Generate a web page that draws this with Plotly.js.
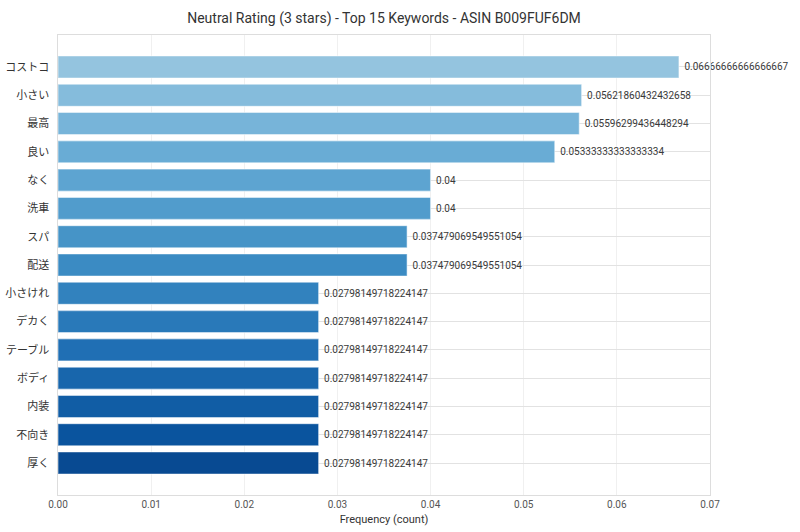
<!DOCTYPE html>
<html>
<head>
<meta charset="utf-8">
<script src="https://cdn.plot.ly/plotly-3.0.1.min.js"></script>
<style>
    html, body { margin: 0; padding: 0; background: #fff; }
    #chart { width: 800px; height: 532px; }
</style>
</head>
<body>
<div id="chart"></div>
<script>
// Top 15 keywords for neutral (3 star) reviews, listed top to bottom
const keywords = [
    'コストコ', '小さい', '最高', '良い', 'なく', '洗車', 'スパ', '配送',
    '小さけれ', 'デカく', 'テーブル', 'ボディ', '内装', '不向き', '厚く'
];

const frequencies = [
    0.06666666666666667, 0.05621860432432658, 0.05596299436448294, 0.05333333333333334,
    0.04, 0.04, 0.037479069549551054, 0.037479069549551054,
    0.02798149718224147, 0.02798149718224147, 0.02798149718224147, 0.02798149718224147,
    0.02798149718224147, 0.02798149718224147, 0.02798149718224147
];

// matplotlib-style Blues, sampled 0.4 -> 0.9 down the list
const bluesScale = [
    [0.0, '#f7fbff'], [0.125, '#deebf7'], [0.25, '#c6dbef'], [0.375, '#9ecae1'],
    [0.5, '#6baed6'], [0.625, '#4292c6'], [0.75, '#2171b5'], [0.875, '#08519c'], [1.0, '#08306b']
];
const shade = keywords.map((k, i) => 0.4 + 0.5 * i / (keywords.length - 1));

const trace = {
    type: 'bar',
    orientation: 'h',
    x: frequencies,
    y: keywords,
    // raw values printed in full, a little off the bar end
    text: frequencies.map(v => '\u00a0' + String(v)),
    textposition: 'outside',
    cliponaxis: false,
    textfont: { size: 10, color: '#3a3a3a' },
    width: 0.78,
    marker: {
        color: shade,
        colorscale: bluesScale,
        cmin: 0,
        cmax: 1,
        line: { color: 'rgba(255,255,255,0.45)', width: 1.2 }
    },
    hoverinfo: 'x+y'
};

const layout = {
    width: 800,
    height: 532,
    margin: { l: 58, r: 90, t: 35, b: 37 },
    paper_bgcolor: '#fff',
    plot_bgcolor: '#fff',
    font: { family: 'Roboto, "Noto Sans CJK JP", sans-serif', size: 11, color: '#444' },
    title: {
        text: 'Neutral Rating (3 stars) - Top 15 Keywords - ASIN B009FUF6DM',
        x: 0.5,
        xref: 'paper',
        y: 0.975,
        yref: 'container',
        font: { size: 14, color: '#333' }
    },
    showlegend: false,
    xaxis: {
        range: [0, 0.07],
        dtick: 0.01,
        tickformat: '.2f',
        showgrid: true,
        gridcolor: '#f0f0f0',
        zeroline: false,
        showline: true,
        linecolor: '#ddd',
        linewidth: 1,
        mirror: true,
        ticks: '',
        tickfont: { size: 10, color: '#555' },
        title: { text: 'Frequency (count)', font: { size: 11, color: '#333' }, standoff: 6 }
    },
    yaxis: {
        type: 'category',
        range: [14 + 1.13, -1.13],
        showgrid: true,
        gridcolor: '#e2e2e2',
        zeroline: false,
        showline: true,
        linecolor: '#ddd',
        linewidth: 1,
        mirror: true,
        ticks: '',
        ticksuffix: '  ',
        tickfont: { size: 11, color: '#333' }
    }
};

Plotly.newPlot('chart', [trace], layout, { displayModeBar: false, responsive: false });
</script>
</body>
</html>
